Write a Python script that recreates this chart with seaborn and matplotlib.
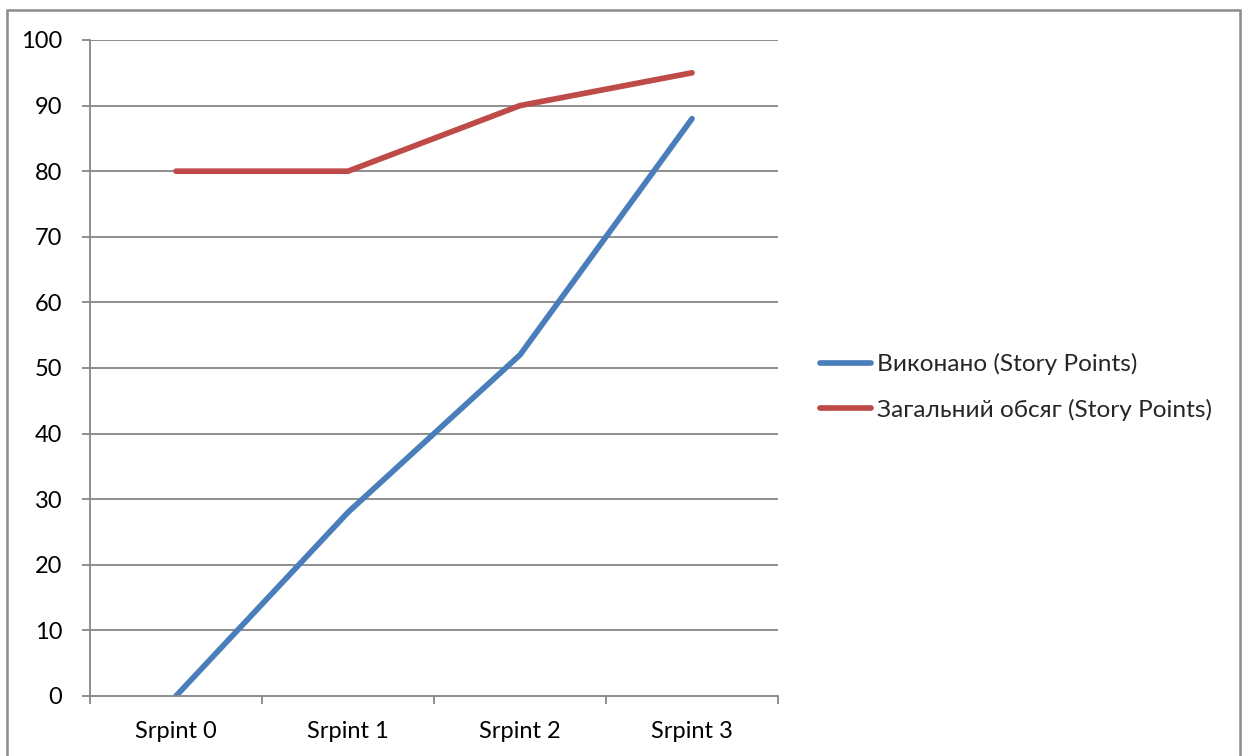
import matplotlib
matplotlib.use("Agg")
import matplotlib.pyplot as plt
from matplotlib.patches import Rectangle
from matplotlib.lines import Line2D
from matplotlib.ticker import FixedLocator
import seaborn as sns
import pandas as pd

# Sprint burn-up data
sprints = ["Srpint 0", "Srpint 1", "Srpint 2", "Srpint 3"]
done_points = [0, 28, 52, 88]
total_scope = [80, 80, 90, 95]
series_names = ["Виконано (Story Points)", "Загальний обсяг (Story Points)"]
series_colors = ["#4A7EBB", "#BE4B48"]

df = pd.DataFrame({
    "sprint": sprints * 2,
    "points": done_points + total_scope,
    "series": [series_names[0]] * len(sprints) + [series_names[1]] * len(sprints),
})

sns.set_theme(style="white")
plt.rcParams["font.family"] = ["Lato", "DejaVu Sans"]

FS = 17
LW = 4.1

fig = plt.figure(figsize=(12.44, 7.56), dpi=100)
ax = fig.add_axes([90 / 1244, 1 - 696 / 756, (778 - 90) / 1244, (696 - 40) / 756])

grid_col = "#868686"
for y in range(10, 101, 10):
    ax.axhline(y, color=grid_col, lw=1.3, zorder=0)

sns.lineplot(data=df, x="sprint", y="points", hue="series",
             palette=series_colors, linewidth=LW, ax=ax, legend=False,
             sort=False, solid_capstyle="round")
for line in ax.lines:
    line.set_solid_joinstyle("round")

ax.set_xlim(-0.5, 3.5)
ax.set_ylim(0, 100)
ax.set_yticks(range(0, 101, 10))
ax.set_xticks(range(len(sprints)))
ax.set_xticklabels(sprints)
ax.xaxis.set_minor_locator(FixedLocator([-0.5, 0.5, 1.5, 2.5, 3.5]))
ax.tick_params(axis="x", which="major", length=0, pad=18, labelsize=FS, colors="black")
ax.tick_params(axis="x", which="minor", bottom=True, length=6, width=1.3, color=grid_col, direction="out")
ax.tick_params(axis="y", which="major", left=True, length=6, width=1.3, color=grid_col,
               direction="out", pad=14, labelsize=FS, labelcolor="black")
ax.set_xlabel("")
ax.set_ylabel("")
for side in ["top", "right"]:
    ax.spines[side].set_visible(False)
for side in ["left", "bottom"]:
    ax.spines[side].set_color(grid_col)
    ax.spines[side].set_linewidth(1.3)

# Legend on the right
handles = [Line2D([0], [0], color=c, lw=LW, solid_capstyle="round") for c in series_colors]
fig.legend(handles, series_names, loc="center left",
           bbox_to_anchor=(820 / 1244, 1 - 387 / 756), frameon=False,
           fontsize=17.6, handlelength=2.1, handletextpad=0.25, labelspacing=0.95,
           borderaxespad=0, borderpad=0)

# Outer chart border
fig.patches.append(Rectangle((7 / 1244, -0.05), (1240 - 7) / 1244, 1.05 - 10 / 756,
                             transform=fig.transFigure, fill=False,
                             edgecolor="#8C8C8C", linewidth=1.8))

fig.savefig("out.png", dpi=100)
